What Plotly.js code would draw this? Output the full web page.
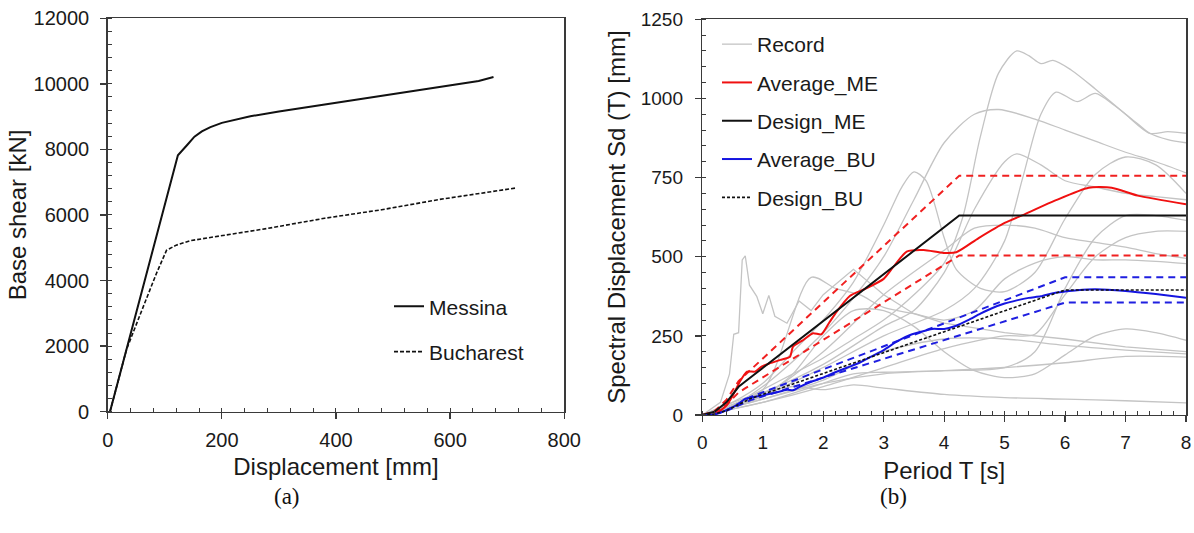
<!DOCTYPE html>
<html><head><meta charset="utf-8">
<script src="https://cdn.plot.ly/plotly-3.0.1.min.js"></script>
<style>html,body{margin:0;padding:0;background:#fff}#chart{width:1194px;height:533px}</style>
</head><body><div id="chart"></div>
<script>
// ---------- (a) pushover curves ----------
const dispME  = [4, 23, 60, 123, 140, 152, 165, 180, 200, 225, 250, 300, 350, 400, 450, 500, 550, 600, 650, 676];
const shearME = [0, 1250, 3650, 7820, 8150, 8390, 8550, 8680, 8810, 8920, 9010, 9160, 9290, 9430, 9570, 9700, 9820, 9950, 10090, 10210];
const dispBU  = [4, 33, 60, 85, 103, 120, 146, 200, 280, 380, 480, 580, 680, 714];
const shearBU = [0, 1900, 3100, 4200, 4920, 5080, 5220, 5360, 5590, 5900, 6160, 6470, 6730, 6820];

// ---------- (b) spectral displacement ----------
const rec1T  = [0,0.3,0.6,1,1.5,2,2.5,3,3.5,4,4.3,4.6,4.9,5.2,5.4,5.6,5.8,6.1,6.5,7.0,7.4,7.7,8];
const rec1Sd = [0,10,40,80,130,180,240,300,380,480,620,880,1080,1150,1135,1110,1120,1090,1030,950,890,895,890];
const rec2T  = [0,0.5,1,1.5,2,2.5,3,3.5,4,4.5,4.9,5.5,6,6.5,7,7.5,8];
const rec2Sd = [0,30,90,170,260,370,500,680,860,950,965,935,900,865,830,800,765];
const rec3T  = [0,1,2,3,4,4.5,5,5.3,5.6,5.85,6.2,6.5,6.8,7.2,7.4,7.7,8];
const rec3Sd = [0,60,150,250,330,400,550,750,950,1020,990,1016,980,920,890,870,860];
const rec4T  = [0,0.5,1,1.5,2,2.5,3,3.3,3.5,3.7,4,4.2,4.6,5,5.5,6,6.5,7,7.5,8];
const rec4Sd = [0,40,100,200,300,420,600,720,768,740,560,460,400,390,450,620,760,815,790,700];
const rec5T  = [0,1,2,3,3.5,4,4.5,5,5.2,5.6,6,6.5,7,7.5,8];
const rec5Sd = [0,70,160,280,330,450,650,800,825,790,740,720,700,690,680];
const rec6T  = [0,1,2,3,4,4.5,5,5.5,6,6.5,7,7.5,8];
const rec6Sd = [0,60,200,380,520,590,600,590,560,545,530,510,495];
const rec7T  = [0,0.5,1,1.5,2,2.5,3,3.5,4,4.5,5,5.5,6,6.5,7,7.5,8];
const rec7Sd = [0,25,60,130,250,330,330,280,200,140,118,130,190,250,272,260,236];
const rec8T  = [0,1,2,3,4,5,5.5,6,6.5,7,7.5,8];
const rec8Sd = [0,50,100,130,140,150,200,400,560,630,630,615];
const rec9T  = [0,1,2,3,4,5,5.5,6,6.5,7,7.5,8];
const rec9Sd = [0,40,90,150,210,250,255,380,500,560,580,580];
const rec10T  = [0,0.5,1,1.5,2,2.5,3,4,5,6,7,8];
const rec10Sd = [0,40,70,90,80,95,85,65,55,50,45,38];
const rec11T  = [0,1,2,3,4,5,6,7,8];
const rec11Sd = [0,50,110,200,240,240,220,205,193];
const rec12T  = [0,1,2,2.5,3,4,5,6,7,8];
const rec12Sd = [0,40,100,130,135,140,150,165,185,183];
const rec13T  = [0,0.3,0.45,0.52,0.6,0.66,0.71,0.78,0.9,1.0,1.1,1.2,1.4,1.6,1.8,2.0,2.5,3,3.5,4,5,6,7,8];
const rec13Sd = [0,40,130,255,260,490,503,410,375,320,378,312,290,360,330,380,460,380,320,290,260,240,215,200];
const rec14T  = [0,1,1.8,2.2,2.6,3,3.5,4,4.5,5,5.5,6,6.5,7,7.5,8];
const rec14Sd = [0,80,435,400,380,340,320,300,330,430,480,500,490,490,485,478];

const avgMET  = [0,0.2,0.4,0.5,0.62,0.74,0.87,0.98,1.1,1.29,1.45,1.5,1.67,1.83,1.97,2.11,2.22,2.44,2.69,3.0,3.16,3.38,3.66,3.99,4.2,4.57,5.0,5.33,5.83,6.39,6.77,7.2,8];
const avgMESd = [0,2,30,60,105,137,137,153,162,174,184,216,237,258,255,295,326,376,398,430,468,516,521,512,514,559,607,634,677,718,718,693,666];
const desMET  = [0,0.2,0.4,0.6,0.7,4.25,8];
const desMESd = [0,10,40,89,104,630,630];
const upMESd  = [0,12,48,107,125,756,756];
const loMESd  = [0,8,32,71,83,504,504];

const avgBUT  = [0,0.2,0.4,0.6,0.7,0.8,1.0,1.2,1.4,1.5,1.6,1.8,2.0,2.2,2.4,2.6,2.8,3.0,3.2,3.4,3.6,3.8,4.0,4.2,4.4,4.6,4.8,5.0,5.2,5.4,5.6,5.8,6.0,6.2,6.5,7.0,7.5,8];
const avgBUSd = [0,2,15,35,50,55,62,70,80,78,88,105,118,135,150,165,185,205,230,250,262,272,272,282,300,320,338,352,362,370,375,385,390,394,397,392,382,370];
const desBUT  = [0,0.2,0.4,0.6,0.8,6.0,8];
const desBUSd = [0,3,14,33,52,395,395];
const upBUSd  = [0,3,15,36,57,435,435];
const loBUSd  = [0,3,13,30,47,355,355];

const recT  = [rec1T,rec2T,rec3T,rec4T,rec5T,rec6T,rec7T,rec8T,rec9T,rec10T,rec11T,rec12T,rec13T,rec14T];
const recSd = [rec1Sd,rec2Sd,rec3Sd,rec4Sd,rec5Sd,rec6Sd,rec7Sd,rec8Sd,rec9Sd,rec10Sd,rec11Sd,rec12Sd,rec13Sd,rec14Sd];

const FONT = 'Liberation Sans, Arial, sans-serif';
const data = [];

data.push({x: dispME, y: shearME, xaxis:'x', yaxis:'y', mode:'lines', name:'Messina',
  line:{color:'#111', width:2}, legend:'legend', legendgroup:'me'});
data.push({x: dispBU, y: shearBU, xaxis:'x', yaxis:'y', mode:'lines', name:'Bucharest',
  line:{color:'#111', width:1.6, dash:'4px,2px'}, legend:'legend', legendgroup:'bu'});

recT.forEach((t, i) => {
  data.push({x: t, y: recSd[i], xaxis:'x2', yaxis:'y2', mode:'lines', name:'Record',
    line:{color:'#c4c4c4', width:1.3, shape: i === 12 ? 'linear' : 'spline', smoothing:0.8},
    legend:'legend2', legendgroup:'rec', showlegend: i === 0});
});
data.push({x: desMET, y: upMESd, xaxis:'x2', yaxis:'y2', mode:'lines', showlegend:false,
  line:{color:'#f02020', width:2, dash:'7px,5px'}});
data.push({x: desMET, y: loMESd, xaxis:'x2', yaxis:'y2', mode:'lines', showlegend:false,
  line:{color:'#f02020', width:2, dash:'7px,5px'}});
data.push({x: desBUT, y: upBUSd, xaxis:'x2', yaxis:'y2', mode:'lines', showlegend:false,
  line:{color:'#1f1fe0', width:2, dash:'7px,5px'}});
data.push({x: desBUT, y: loBUSd, xaxis:'x2', yaxis:'y2', mode:'lines', showlegend:false,
  line:{color:'#1f1fe0', width:2, dash:'7px,5px'}});
data.push({x: avgMET, y: avgMESd, xaxis:'x2', yaxis:'y2', mode:'lines', name:'Average_ME',
  line:{color:'#f01010', width:2, shape:'spline', smoothing:0.6}, legend:'legend2', legendgroup:'ame'});
data.push({x: desMET, y: desMESd, xaxis:'x2', yaxis:'y2', mode:'lines', name:'Design_ME',
  line:{color:'#111', width:2}, legend:'legend2', legendgroup:'dme'});
data.push({x: avgBUT, y: avgBUSd, xaxis:'x2', yaxis:'y2', mode:'lines', name:'Average_BU',
  line:{color:'#1414e0', width:2, shape:'spline', smoothing:0.6}, legend:'legend2', legendgroup:'abu'});
data.push({x: desBUT, y: desBUSd, xaxis:'x2', yaxis:'y2', mode:'lines', name:'Design_BU',
  line:{color:'#111', width:1.6, dash:'3px,2px'}, legend:'legend2', legendgroup:'dbu'});

const axisCommon = {
  showgrid:false, zeroline:false, showline:true, mirror:true,
  linecolor:'#3a3a3a', linewidth:1.5,
  ticks:'outside', ticklen:6, tickwidth:1.3, tickcolor:'#3a3a3a',
  tickfont:{family:FONT, size:19, color:'#1a1a1a'},
  ticklabelstandoff:4, tickformat:'d',
  minor:{ticks:'inside', ticklen:4, tickwidth:1, tickcolor:'#3a3a3a'}
};
const titleFont = {family:FONT, size:24, color:'#1a1a1a'};
const tickFontA = {family:FONT, size:20, color:'#1a1a1a'};

const layout = {
  width:1194, height:533,
  margin:{l:0, r:0, t:0, b:0},
  paper_bgcolor:'#fff', plot_bgcolor:'#fff',
  xaxis: Object.assign({}, axisCommon, {domain:[0.0902,0.4726], anchor:'y', range:[0,800], dtick:200, tick0:0,
    tickfont:tickFontA,
    minor:Object.assign({}, axisCommon.minor, {dtick:40}),
    title:{text:'Displacement [mm]', font:titleFont, standoff:8}}),
  yaxis: Object.assign({}, axisCommon, {domain:[0.2276,0.9657], anchor:'x', range:[0,12000], dtick:2000, tick0:0,
    ticklabelstandoff:7, tickfont:tickFontA,
    minor:Object.assign({}, axisCommon.minor, {dtick:400}),
    title:{text:'Base shear [kN]', font:titleFont, standoff:0}}),
  xaxis2: Object.assign({}, axisCommon, {domain:[0.5882,0.9933], anchor:'y2', range:[0,8], dtick:1, tick0:0,
    minor:Object.assign({}, axisCommon.minor, {dtick:0.2}),
    title:{text:'Period T [s]', font:titleFont, standoff:10}}),
  yaxis2: Object.assign({}, axisCommon, {domain:[0.2214,0.9638], anchor:'x2', range:[0,1250], dtick:250, tick0:0,
    ticklabelstandoff:8,
    minor:Object.assign({}, axisCommon.minor, {dtick:50}),
    title:{text:'Spectral Displacement Sd (T) [mm]', font:titleFont, standoff:8}}),
  legend:{x:0.3258, y:0.463, xanchor:'left', yanchor:'top', bgcolor:'rgba(0,0,0,0)',
    font:{family:FONT, size:21, color:'#1a1a1a'}, traceorder:'grouped', tracegroupgap:15},
  legend2:{x:0.6005, y:0.955, xanchor:'left', yanchor:'top', bgcolor:'rgba(0,0,0,0)',
    font:{family:FONT, size:21, color:'#1a1a1a'}, traceorder:'grouped', tracegroupgap:8},
  annotations:[
    {text:'(a)', xref:'paper', yref:'paper', x:287/1194, y:(533-496)/533, xanchor:'center', yanchor:'middle',
     showarrow:false, font:{family:'Liberation Serif, Times New Roman, serif', size:23, color:'#111'}},
    {text:'(b)', xref:'paper', yref:'paper', x:893/1194, y:(533-496)/533, xanchor:'center', yanchor:'middle',
     showarrow:false, font:{family:'Liberation Serif, Times New Roman, serif', size:23, color:'#111'}}
  ],
  showlegend:true
};

Plotly.newPlot('chart', data, layout, {displayModeBar:false, staticPlot:true});
</script></body></html>
